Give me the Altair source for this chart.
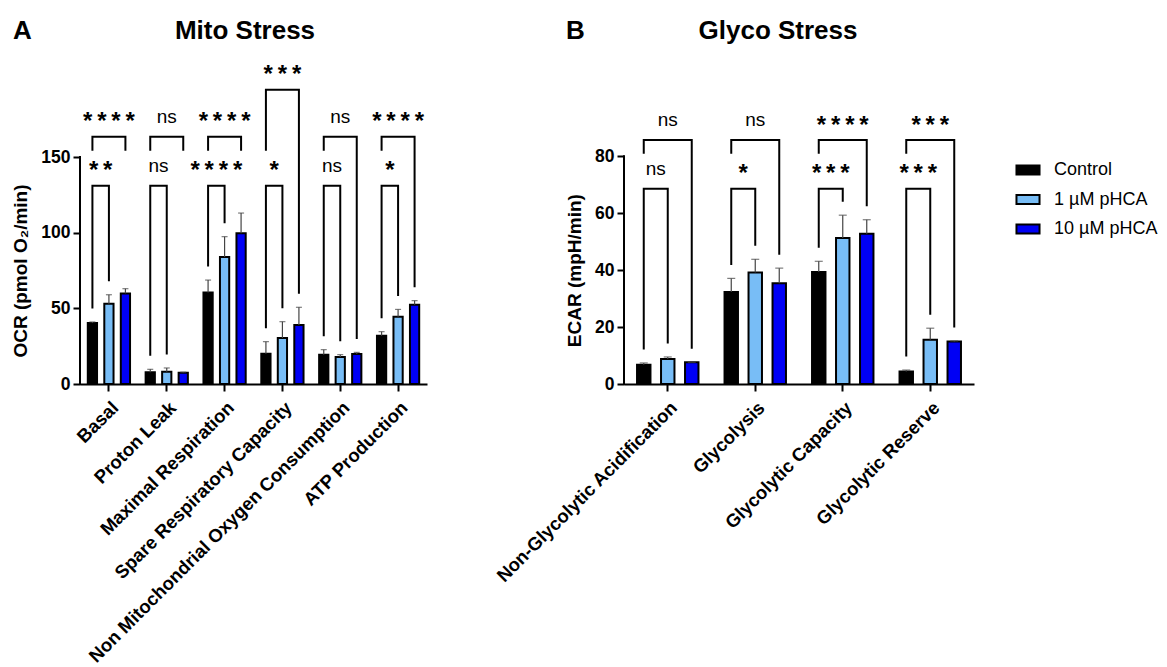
import altair as alt
import pandas as pd

FONT = "Liberation Sans"

SERIES = ["Control", "1 µM pHCA", "10 µM pHCA"]
SERIES_COLORS = ["#000000", "#78BDF6", "#0000F5"]

# ---------------- Mito Stress (OCR) ----------------
mito_categories = ["Basal", "Proton Leak", "Maximal Respiration",
                   "Spare Respiratory Capacity",
                   "Non Mitochondrial Oxygen Consumption", "ATP Production"]
mito_control = [40.3, 7.7, 60.4, 20.0, 19.4, 31.9]
mito_control_err = [0.7, 2.0, 8.3, 8.0, 3.3, 2.7]
mito_1uM = [53.1, 8.1, 83.9, 30.4, 17.8, 44.5]
mito_1uM_err = [5.9, 2.5, 13.5, 10.8, 1.6, 4.8]
mito_10uM = [59.9, 7.5, 99.6, 39.0, 19.8, 52.4]
mito_10uM_err = [3.1, 0.3, 13.4, 11.7, 1.1, 2.7]
mito_sig_inner = ["**", "ns", "****", "*", "ns", "*"]
mito_sig_outer = ["****", "ns", "****", "***", "ns", "****"]
mito_inner_top = [131, 131, 131, 131, 131, 131]
mito_outer_top = [163.4, 163.4, 163.4, 194.5, 163.4, 163.4]
mito_outer_right_long = [False, False, False, True, True, True]

# ---------------- Glyco Stress (ECAR) ----------------
glyco_categories = ["Non-Glycolytic Acidification", "Glycolysis",
                    "Glycolytic Capacity", "Glycolytic Reserve"]
glyco_control = [6.8, 32.3, 39.3, 4.4]
glyco_control_err = [0.6, 4.8, 3.8, 0.5]
glyco_1uM = [8.8, 39.2, 51.3, 15.5]
glyco_1uM_err = [0.7, 4.6, 8.0, 4.1]
glyco_10uM = [7.6, 35.4, 52.8, 14.9]
glyco_10uM_err = [0.0, 5.3, 4.9, 0.2]
glyco_sig_inner = ["ns", "*", "***", "***"]
glyco_sig_outer = ["ns", "ns", "****", "***"]
glyco_inner_top = [68.6, 68.6, 68.6, 68.6]
glyco_outer_top = [85.7, 85.7, 85.7, 85.7]
glyco_outer_right_long = [True, True, True, True]

LEGEND = alt.Legend(
    title=None, orient="none", legendX=939, legendY=95,
    symbolType="M-2.5,-1H2.5V1H-2.5Z", symbolSize=85,
    symbolStrokeColor="black", symbolStrokeWidth=2,
    labelFont=FONT, labelFontSize=18, labelColor="black",
    labelOffset=17, rowPadding=11.5, padding=0,
)


def build_panel(cats, vals, errs, sig_inner, sig_outer, inner_top, outer_top,
                right_long, ymax, ytick_values, ytitle, width, height,
                off_outer, cap_size, letter, letter_x, title, title_x):
    ppu = height / ymax
    gap = 13.5 / ppu
    stub = 35 / ppu
    half_step = (width / len(cats)) / (3 - 0.44 + 2 * off_outer) / 2

    bar_rows, br_rows, lab_rows = [], [], []
    for i, c in enumerate(cats):
        tops = []
        for j, s in enumerate(SERIES):
            v = vals[j][i]
            e = errs[j][i]
            tops.append(v + e)
            bar_rows.append({"cat": c, "series": s, "value": v, "top": v + e})
        it, ot = inner_top[i], outer_top[i]
        low = it + stub
        inner_pts = [(SERIES[0], tops[0] + gap), (SERIES[0], it),
                     (SERIES[1], it), (SERIES[1], tops[1] + gap)]
        rb = tops[2] + gap if right_long[i] else low
        outer_pts = [(SERIES[0], low), (SERIES[0], ot),
                     (SERIES[2], ot), (SERIES[2], rb)]
        for k, (s, y) in enumerate(inner_pts):
            br_rows.append({"cat": c, "series": s, "value": y, "id": f"{c}|in", "ord": k})
        for k, (s, y) in enumerate(outer_pts):
            br_rows.append({"cat": c, "series": s, "value": y, "id": f"{c}|out", "ord": k})
        for kind, s, y, lab in [("inner", SERIES[0], it, sig_inner[i]),
                                ("outer", SERIES[1], ot, sig_outer[i])]:
            typ = "ns" if lab == "ns" else "star"
            txt = lab if lab == "ns" else "\u2009".join(lab)
            lab_rows.append({"cat": c, "series": s, "value": y, "label": txt,
                             "kind": kind, "typ": typ})

    bars_df = pd.DataFrame(bar_rows)
    br_df = pd.DataFrame(br_rows)
    lab_df = pd.DataFrame(lab_rows)

    xaxis = alt.Axis(title=None, labelAngle=-45, labelAlign="right",
                     labelBaseline="top", labelPadding=7, labelLimit=0,
                     labelOverlap=False, labelFontSize=18.5)
    xenc = alt.X("cat:N", sort=cats,
                 scale=alt.Scale(domain=cats, paddingInner=0, paddingOuter=0),
                 axis=xaxis)
    xoff = alt.XOffset("series:N",
                       scale=alt.Scale(domain=SERIES, paddingInner=0.44,
                                       paddingOuter=off_outer))
    title_y = height - ytick_values[-1] * ppu / 2
    yaxis = alt.Axis(title=ytitle, values=ytick_values, domain=False,
                     grid=False, titlePadding=10, titleY=title_y)
    yscale = alt.Scale(domain=[0, ymax], nice=False, zero=True)

    def Y(f):
        return alt.Y(f"{f}:Q", scale=yscale, axis=yaxis)

    bars = alt.Chart(bars_df).mark_bar(stroke="black", strokeWidth=2).encode(
        x=xenc, xOffset=xoff, y=Y("value"),
        fill=alt.Fill("series:N", scale=alt.Scale(domain=SERIES, range=SERIES_COLORS),
                      legend=LEGEND),
    )
    err = alt.Chart(bars_df).mark_rule(color="#444444", strokeWidth=1.2).encode(
        x=xenc, xOffset=xoff, y=Y("value"), y2="top:Q")
    caps = alt.Chart(bars_df).mark_tick(color="#444444", thickness=1.2,
                                        size=cap_size, orient="horizontal").encode(
        x=xenc, xOffset=xoff, y=Y("top"))
    brackets = alt.Chart(br_df).mark_line(color="black", strokeWidth=2,
                                          strokeJoin="miter", strokeCap="butt").encode(
        x=xenc, xOffset=xoff, y=Y("value"), detail="id:N", order="ord:Q")

    lab_layers = []
    for kind, dx in [("inner", half_step), ("outer", 0)]:
        for typ, fs, dy, fw in [("ns", 19, -14.2, "normal"), ("star", 24, -7.5, "bold")]:
            lab_layers.append(
                alt.Chart(lab_df)
                .transform_filter(f"datum.kind == '{kind}' && datum.typ == '{typ}'")
                .mark_text(font=FONT, fontSize=fs, fontWeight=fw, dx=dx, dy=dy,
                           baseline="alphabetic", align="center", color="black")
                .encode(x=xenc, xOffset=xoff, y=Y("value"), text="label:N")
            )

    spine = alt.Chart(pd.DataFrame({"value": [0], "end": [ytick_values[-1]]})).mark_rule(
        color="black", strokeWidth=2, strokeCap="square").encode(
        x=alt.value(0), y=Y("value"), y2="end:Q")

    letter_txt = alt.Chart(pd.DataFrame({"t": [letter]})).mark_text(
        font=FONT, fontSize=26, fontWeight="bold", align="center",
        baseline="alphabetic", color="black").encode(
        text="t:N", x=alt.value(letter_x), y=alt.value(-27))
    title_txt = alt.Chart(pd.DataFrame({"t": [title]})).mark_text(
        font=FONT, fontSize=26, fontWeight="bold", align="center",
        baseline="alphabetic", color="black").encode(
        text="t:N", x=alt.value(title_x), y=alt.value(-27))

    return alt.layer(bars, err, caps, brackets, *lab_layers, spine,
                     letter_txt, title_txt).properties(width=width, height=height)


panel_a = build_panel(
    mito_categories,
    [mito_control, mito_1uM, mito_10uM],
    [mito_control_err, mito_1uM_err, mito_10uM_err],
    mito_sig_inner, mito_sig_outer, mito_inner_top, mito_outer_top,
    mito_outer_right_long, 210.2, [0, 50, 100, 150], "OCR (pmol O₂/min)",
    347, 318, 0.4725, 6, "A", -57.5, "Mito Stress", 165,
)
panel_b = build_panel(
    glyco_categories,
    [glyco_control, glyco_1uM, glyco_10uM],
    [glyco_control_err, glyco_1uM_err, glyco_10uM_err],
    glyco_sig_inner, glyco_sig_outer, glyco_inner_top, glyco_outer_top,
    glyco_outer_right_long, 111.7, [0, 20, 40, 60, 80], "ECAR (mpH/min)",
    350, 318, 0.543, 8, "B", -48.5, "Glyco Stress", 154,
)

chart = (
    alt.hconcat(panel_a, panel_b, spacing=197, bounds="flush",
                padding={"left": 3, "top": 9, "right": 0, "bottom": 0})
    .resolve_scale(x="independent", y="independent", xOffset="independent",
                   fill="shared")
    .configure_axis(
        domainColor="black", domainWidth=2, tickColor="black", tickWidth=2,
        tickSize=7, labelColor="black", labelFont=FONT, labelFontSize=17.5,
        labelFontWeight="bold", titleFont=FONT, titleFontSize=19,
        titleFontWeight="bold", titleColor="black", labelPadding=3,
    )
    .configure_view(stroke="transparent")
)

chart.save("out.html", embed_options={"renderer": "svg", "actions": False})
